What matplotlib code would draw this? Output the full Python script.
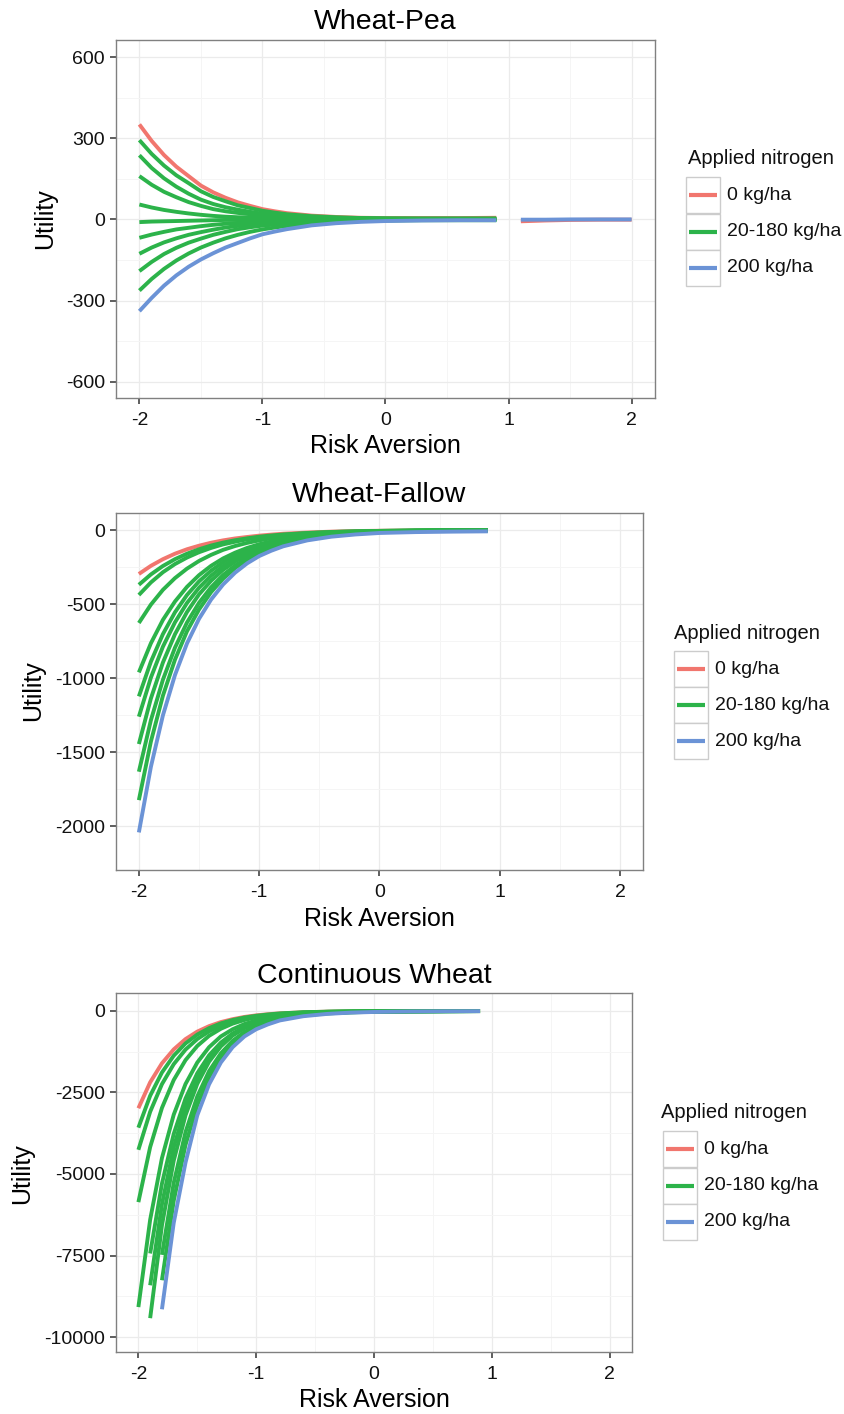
import numpy as np
import matplotlib
matplotlib.use('Agg')
import matplotlib.pyplot as plt
from matplotlib.patches import Rectangle
from matplotlib.lines import Line2D

plt.rcParams['font.family'] = ['Liberation Sans', 'DejaVu Sans']
plt.rcParams['axes.unicode_minus'] = False

nan = np.nan

# risk aversion coefficient grid shared by all three rotations
risk = [-2.0, -1.9, -1.8, -1.7, -1.6, -1.5, -1.4, -1.3, -1.2, -1.1,
        -1.0, -0.9, -0.8, -0.6, -0.4, -0.2, 0.0, 0.3, 0.6, 0.9]

# ---- Wheat-Pea utility ----
pea_zero = [351, 290, 238, 195, 160, 125, 100, 80, 63, 50, 38, 30, 23, 14, 9, 6, 5, 5, 5, 6]
pea_mid = [
    [293, 242, 199, 163, 134, 104, 83, 67, 52, 42, 32, 25, 19, 12, 8, 5, 4, 3, 3, 3],
    [237, 190, 152, 121, 95, 73, 57, 45, 36, 28, 21, 17, 13, 8, 5, 4, 3, 3, 3, 3],
    [160, 128, 102, 82, 64, 50, 38, 30, 24, 19, 14, 11, 9, 6, 4, 3, 2, 2, 2, 2],
    [55, 44, 35, 28, 22, 17, 13, 10, 8, 7, 5, 4, 3, 2, 1, 1, 1, 1, 1, 1],
    [-10, -8, -7, -6, -5, -4, -3, -2, -2, -1, -1, 0, 0, 0, 0, 0, 0, 0, 0, 0],
    [-68, -56, -46, -37, -31, -25, -20, -16, -13, -10, -8, -7, -5, -3, -2, -1, -1, -1, -1, -1],
    [-127, -104, -85, -70, -57, -47, -38, -30, -24, -19, -15, -13, -10, -6, -4, -3, -2, -1, -1, -1],
    [-191, -157, -128, -105, -86, -71, -57, -46, -36, -29, -23, -19, -15, -10, -6, -4, -3, -2, -2, -2],
    [-263, -220, -183, -152, -126, -104, -86, -70, -57, -46, -37, -30, -24, -15, -10, -6, -4, -3, -3, -3],
]
pea_full = [-339, -290, -245, -207, -175, -148, -125, -104, -87, -70, -55, -45, -36, -22, -14, -9, -6, -4, -3, -3]
# second branch of the Wheat-Pea solution
pea_risk_hi = [1.1, 1.3, 1.5, 1.75, 2.0]
pea_zero_hi = [-7, -4, -2, -1, -1]
pea_full_hi = [-1, -1, 0, 0, 0]

# ---- Wheat-Fallow utility ----
fallow_zero = [-297, -242, -197, -160, -130, -106, -86, -70, -57, -47, -38, -31, -25, -17, -11, -7, -5, -3, -2, -1]
fallow_mid = [
    [-370, -300, -243, -197, -160, -130, -105, -85, -69, -56, -45, -37, -30, -20, -13, -9, -6, -3, -2, -1],
    [-439, -354, -285, -230, -186, -150, -121, -97, -79, -63, -51, -41, -33, -22, -14, -9, -6, -3, -2, -1],
    [-628, -504, -404, -325, -261, -209, -168, -134, -108, -87, -70, -56, -45, -29, -19, -12, -8, -4, -2, -1],
    [-962, -765, -607, -483, -384, -305, -242, -192, -153, -121, -96, -77, -61, -38, -24, -15, -10, -5, -3, -1],
    [-1124, -889, -703, -556, -439, -347, -275, -217, -172, -136, -108, -85, -67, -43, -26, -17, -10, -6, -3, -1],
    [-1261, -997, -788, -624, -493, -390, -309, -243, -193, -153, -121, -96, -76, -48, -29, -19, -11, -6, -4, -1],
    [-1446, -1138, -895, -704, -554, -435, -343, -269, -213, -166, -132, -103, -81, -51, -30, -19, -12, -6, -3, -1],
    [-1633, -1285, -1011, -795, -625, -492, -387, -304, -240, -188, -149, -116, -91, -57, -34, -21, -13, -7, -3, -2],
    [-1825, -1429, -1119, -876, -684, -537, -420, -329, -257, -201, -157, -124, -97, -58, -37, -22, -13, -7, -4, -2],
]
fallow_full = [-2043, -1600, -1252, -980, -766, -600, -470, -368, -288, -225, -176, -140, -110, -70, -45, -30, -20, -14, -11, -9]

# ---- Continuous Wheat utility ----
wheat_zero = [-2983, -2187, -1605, -1178, -862, -632, -465, -340, -251, -182, -134, -98, -72, -39, -21, -12, -6, -3, -2, -1]
wheat_mid = [
    [-3579, -2599, -1886, -1371, -995, -723, -526, -379, -276, -200, -147, -107, -75, -39, -21, -11, -7, -4, -2, -1],
    [-4258, -3091, -2244, -1631, -1184, -860, -626, -451, -328, -238, -175, -128, -89, -47, -26, -14, -8, -4, -2, -1],
    [-5863, -4174, -2973, -2117, -1507, -1073, -762, -545, -387, -276, -193, -141, -100, -53, -28, -15, -9, -5, -3, -1],
    [-9082, -6400, -4510, -3180, -2240, -1580, -1110, -780, -560, -400, -290, -210, -150, -80, -45, -25, -15, -8, -4, -2],
    [nan, -9422, -6575, -4590, -3200, -2235, -1555, -1085, -755, -527, -370, -260, -185, -95, -52, -30, -18, -9, -5, -2],
    [nan, -8413, -5930, -4180, -2940, -2070, -1460, -1025, -725, -510, -360, -255, -180, -95, -52, -30, -18, -9, -5, -2],
    [nan, -7437, -5295, -3770, -2685, -1910, -1360, -970, -690, -490, -350, -250, -178, -95, -52, -30, -18, -9, -5, -2],
    [nan, nan, -8259, -5820, -4105, -2890, -2035, -1435, -1010, -710, -500, -355, -250, -135, -75, -42, -25, -13, -7, -3],
    [nan, nan, -7480, -5270, -3715, -2620, -1845, -1300, -915, -645, -455, -320, -225, -120, -67, -38, -22, -11, -6, -3],
]
wheat_full = [nan, nan, -9150, -6500, -4650, -3200, -2250, -1580, -1110, -780, -560, -410, -290, -160, -90, -50, -30, -15, -8, -5]

legend_labels = ['0 kg/ha', '20-180 kg/ha', '200 kg/ha']
colors = ['#F1766E', '#2CB34A', '#6B93D6']
LW = 2.8

W, H = 845, 1414
fig = plt.figure(figsize=(W / 100, H / 100), dpi=100)


def fx(x):
    return x / W


def fy(y):
    return 1 - y / H


def make_panel(left, right, top, bottom, ylim, yticks, yminor):
    ax = fig.add_axes([fx(left), fy(bottom), fx(right - left), (bottom - top) / H])
    ax.set_xlim(-2.19, 2.19)
    ax.set_ylim(*ylim)
    ax.set_xticks([-2, -1, 0, 1, 2])
    ax.set_xticks([-1.5, -0.5, 0.5, 1.5], minor=True)
    ax.set_yticks(yticks)
    ax.set_yticks(yminor, minor=True)
    ax.grid(which='major', color='#ebebeb', lw=0.9)
    ax.grid(which='minor', color='#f5f5f5', lw=0.7)
    ax.set_axisbelow(True)
    for s in ax.spines.values():
        s.set_color('#808080')
        s.set_linewidth(1.0)
    ax.tick_params(which='major', length=4, width=1.1, color='#333333',
                   labelsize=14, labelcolor='#111111')
    ax.tick_params(axis='x', pad=6)
    ax.tick_params(axis='y', pad=4)
    ax.tick_params(which='minor', length=0)
    return ax


def draw_curves(ax, xs, zero, mid, full):
    ax.plot(xs, zero, color=colors[0], lw=LW, solid_capstyle='butt')
    for ys in mid:
        ax.plot(xs, ys, color=colors[1], lw=LW, solid_capstyle='butt')
    ax.plot(xs, full, color=colors[2], lw=LW, solid_capstyle='butt')


def draw_legend(title_x, title_y, box_left, centers, label_x):
    fig.text(fx(title_x), fy(title_y), 'Applied nitrogen', fontsize=14.5,
             ha='left', va='center', color='#111111')
    bw, bh = 34, 36.5
    for c, lab, col in zip(centers, legend_labels, colors):
        fig.add_artist(Rectangle((fx(box_left), fy(c + bh / 2)), bw / W, bh / H,
                                 transform=fig.transFigure, facecolor='white',
                                 edgecolor='#cccccc', lw=1.0))
        fig.add_artist(Line2D([fx(box_left + 3), fx(box_left + bw - 3)], [fy(c), fy(c)],
                              transform=fig.transFigure, color=col, lw=3.0,
                              solid_capstyle='butt'))
        fig.text(fx(label_x), fy(c), lab, fontsize=14, ha='left', va='center',
                 color='#111111')


def labels(title, cx, title_y, xlab_y, ylab_x, ylab_y):
    fig.text(fx(cx), fy(title_y), title, fontsize=20.5, ha='center', va='center')
    fig.text(fx(cx), fy(xlab_y), 'Risk Aversion', fontsize=18, ha='center', va='center')
    fig.text(fx(ylab_x), fy(ylab_y), 'Utility', fontsize=18, ha='center', va='center',
             rotation=90)


# Wheat-Pea
ax1 = make_panel(116, 655, 40, 398, (-660, 663), [-600, -300, 0, 300, 600],
                 [-450, -150, 150, 450])
draw_curves(ax1, risk, pea_zero, pea_mid, pea_full)
ax1.plot(pea_risk_hi, pea_zero_hi, color=colors[0], lw=LW, solid_capstyle='butt')
ax1.plot(pea_risk_hi, pea_full_hi, color=colors[2], lw=LW, solid_capstyle='butt')
labels('Wheat-Pea', 385, 22, 446, 45, 219)
draw_legend(688, 159, 686, [195, 232, 268], 727)

# Wheat-Fallow
ax2 = make_panel(116, 643, 513, 870, (-2297, 115), [-2000, -1500, -1000, -500, 0],
                 [-1750, -1250, -750, -250])
draw_curves(ax2, risk, fallow_zero, fallow_mid, fallow_full)
labels('Wheat-Fallow', 379, 495, 919, 33, 691)
draw_legend(674, 633, 674, [669, 705, 741], 715)

# Continuous Wheat
ax3 = make_panel(116, 632, 993, 1352, (-10460, 552), [-10000, -7500, -5000, -2500, 0],
                 [-8750, -6250, -3750, -1250])
draw_curves(ax3, risk, wheat_zero, wheat_mid, wheat_full)
labels('Continuous Wheat', 374, 976, 1400, 22, 1174)
draw_legend(661, 1112, 663, [1149, 1186, 1222], 704)

fig.savefig('out.png', dpi=100, facecolor='white')
